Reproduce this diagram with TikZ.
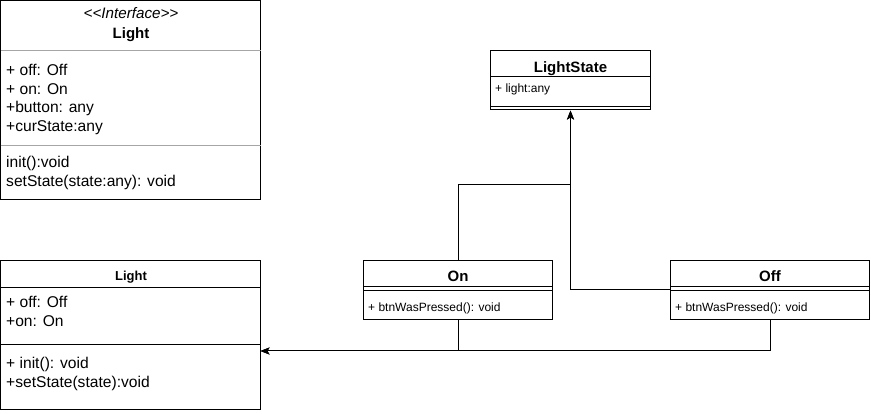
\documentclass[tikz,border=0pt]{standalone}
\usepackage{fontspec}
\setmainfont{Liberation Sans}
\usetikzlibrary{arrows.meta}
\tikzset{
  classbox/.style={draw, line width=1pt, inner sep=0pt},
  title/.style={anchor=base, inner sep=0pt, font=\bfseries\fontsize{15}{18}\selectfont},
  member/.style={anchor=base west, inner sep=0pt, font=\fontsize{15.6}{18}\selectfont},
  smallmember/.style={anchor=base west, inner sep=0pt, font=\fontsize{12}{14}\selectfont},
  divider/.style={line width=1pt},
  inherit/.style={line width=1pt, -{Stealth[length=9pt,width=7pt,inset=2pt]}},
}
\begin{document}
\begin{tikzpicture}[x=1pt,y=-1pt]
    \useasboundingbox (0,0) rectangle (871,414);
    %% Interface Light
    \node[classbox, minimum width=260, minimum height=199] (iface) at (130.5,100) {};
    \node[anchor=base, inner sep=0pt, font=\itshape\fontsize{15.2}{17}\selectfont] (ifacestereo) at (131,19) {<\kern0pt<Interface>\kern0pt>};
    \node[title] (ifacename) at (131,38.5) {Light};
    \draw[divider, black!35] (0.5,51) -- (260.5,51);
    \node[member] (ifaceoff) at (6,76) {+ off: Off};
    \node[member] (ifaceon) at (6,94.5) {+ on: On};
    \node[member] (ifacebutton) at (6,113) {+button: any};
    \node[member] (ifacestate) at (6,131.5) {+curState:any};
    \draw[divider, black!35] (0.5,145.5) -- (260.5,145.5);
    \node[member] (ifaceinit) at (6,168) {init():void};
    \node[member] (ifaceset) at (6,187) {setState(state:any): void};
    %% Class Light
    \node[classbox, minimum width=260, minimum height=149] (light) at (130.5,335) {};
    \node[title, font=\bfseries\fontsize{13}{15}\selectfont] (lightname) at (131,281) {Light};
    \draw[divider] (0.5,287.5) -- (260.5,287.5);
    \node[member] (lightoff) at (6,307.5) {+ off: Off};
    \node[member] (lighton) at (6,326.5) {+on: On};
    \draw[divider] (0.5,344.5) -- (260.5,344.5);
    \node[member] (lightinit) at (6,369) {+ init(): void};
    \node[member] (lightset) at (6,388) {+setState(state):void};
    %% LightState
    \node[classbox, minimum width=160, minimum height=59.5] (ls) at (570.5,80.25) {};
    \node[title] (lsname) at (570.5,72.5) {LightState};
    \draw[divider] (490.5,77) -- (650.5,77);
    \node[smallmember] (lslight) at (495,93) {+ light:any};
    \draw[divider] (490.5,106.5) -- (650.5,106.5);
    %% On
    \node[classbox, minimum width=189, minimum height=59] (on) at (458,290) {};
    \node[title] (onname) at (458,282) {On};
    \draw[divider] (363.5,287) -- (552.5,287);
    \draw[divider] (363.5,290.5) -- (552.5,290.5);
    \node[smallmember] (onpress) at (368,311.5) {+ btnWasPressed(): void};
    %% Off
    \node[classbox, minimum width=199, minimum height=59] (off) at (770,290) {};
    \node[title] (offname) at (770,282) {Off};
    \draw[divider] (670.5,287) -- (869.5,287);
    \draw[divider] (670.5,290.5) -- (869.5,290.5);
    \node[smallmember] (offpress) at (675,311.5) {+ btnWasPressed(): void};
    %% Connectors
    \coordinate (onbend) at (570.5,185);
    \coordinate (lightin) at (260.5,351);
    \draw[inherit] (on.north) |- (onbend) -- (ls.south);
    \draw[inherit] (off.west) -| (ls.south);
    \draw[inherit] (off.south) |- (lightin);
    \draw[inherit] (on.south) |- (lightin);
\end{tikzpicture}
\end{document}
